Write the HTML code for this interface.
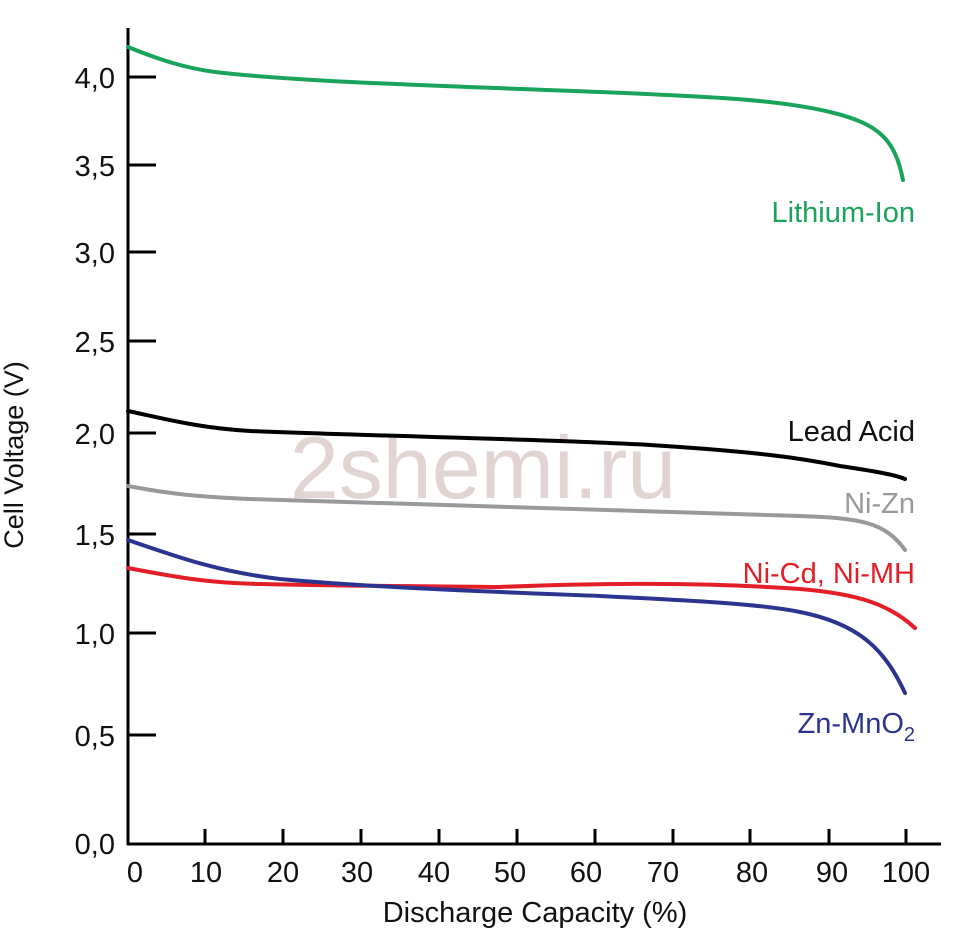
<!DOCTYPE html>
<html><head><meta charset="utf-8"><style>body{margin:0;background:#fff}svg{display:block}</style></head>
<body>
<svg width="970" height="928" xmlns="http://www.w3.org/2000/svg" font-family="Liberation Sans, sans-serif">
<text x="483" y="498" font-size="88" fill="#e3d4d4" text-anchor="middle">2shemi.ru</text>
<g stroke="#000" stroke-width="3" fill="none">
<line x1="128" y1="28" x2="128" y2="845"/>
<line x1="127" y1="844" x2="941" y2="844"/>
<path d="M128 77h28M128 165h28M128 252h28M128 341h28M128 433h28M128 534h28M128 633h28M128 735h28"/>
<path d="M205 829v15M283 829v15M361 829v15M439 829v15M517 829v15M595 829v15M673 829v15M750 829v15M829 829v15M906 829v15"/>
</g>
<g font-size="29" fill="#111" text-anchor="end">
<text x="115" y="88">4,0</text><text x="115" y="176">3,5</text><text x="115" y="263">3,0</text><text x="115" y="352">2,5</text><text x="115" y="444">2,0</text><text x="115" y="545">1,5</text><text x="115" y="644">1,0</text><text x="115" y="746">0,5</text><text x="115" y="854">0,0</text>
</g>
<g font-size="29" fill="#111" text-anchor="middle">
<text x="135" y="882">0</text><text x="206" y="882">10</text><text x="283" y="882">20</text><text x="357" y="882">30</text><text x="434" y="882">40</text><text x="510" y="882">50</text><text x="586" y="882">60</text><text x="663" y="882">70</text><text x="752" y="882">80</text><text x="832" y="882">90</text><text x="906" y="882">100</text>
<text x="535" y="922">Discharge Capacity (%)</text>
</g>
<text transform="translate(23,455) rotate(-90)" font-size="27" fill="#111" text-anchor="middle">Cell Voltage (V)</text>
<g fill="none" stroke-width="4" stroke-linecap="round">
<path stroke="#1aa35a" d="M128 47 C160 60,185 68,215 72 C300 82,450 86,600 92 C720 97,780 100,830 112 C880 124,895 140,903 180"/>
<path stroke="#000" d="M128 411 C170 420,200 428,250 431 C400 437,550 439,650 445 C760 452,800 458,840 466 C880 472,895 475,905 479"/>
<path stroke="#999" d="M128 486 C170 494,200 497,250 499 C450 506,650 510,800 516 C860 518,885 522,905 550"/>
<path stroke="#e31e26" d="M128 568 C180 578,210 583,260 584 C340 586,420 586,500 587 C600 583,700 582,800 589 C860 594,890 605,915 628"/>
<path stroke="#2b3590" d="M128 540 C180 558,220 572,280 579 C380 588,500 592,600 596 C700 601,760 604,800 612 C860 624,885 650,905 693"/>
</g>
<g font-size="29" text-anchor="end">
<text x="915" y="222" fill="#1aa35a">Lithium-Ion</text>
<text x="915" y="441" fill="#111">Lead Acid</text>
<text x="915" y="513" fill="#999">Ni-Zn</text>
<text x="915" y="583" fill="#e31e26">Ni-Cd, Ni-MH</text>
<text x="915" y="733" fill="#2b3590">Zn-MnO<tspan font-size="20" dy="8">2</tspan></text>
</g>
</svg>
</body></html>
